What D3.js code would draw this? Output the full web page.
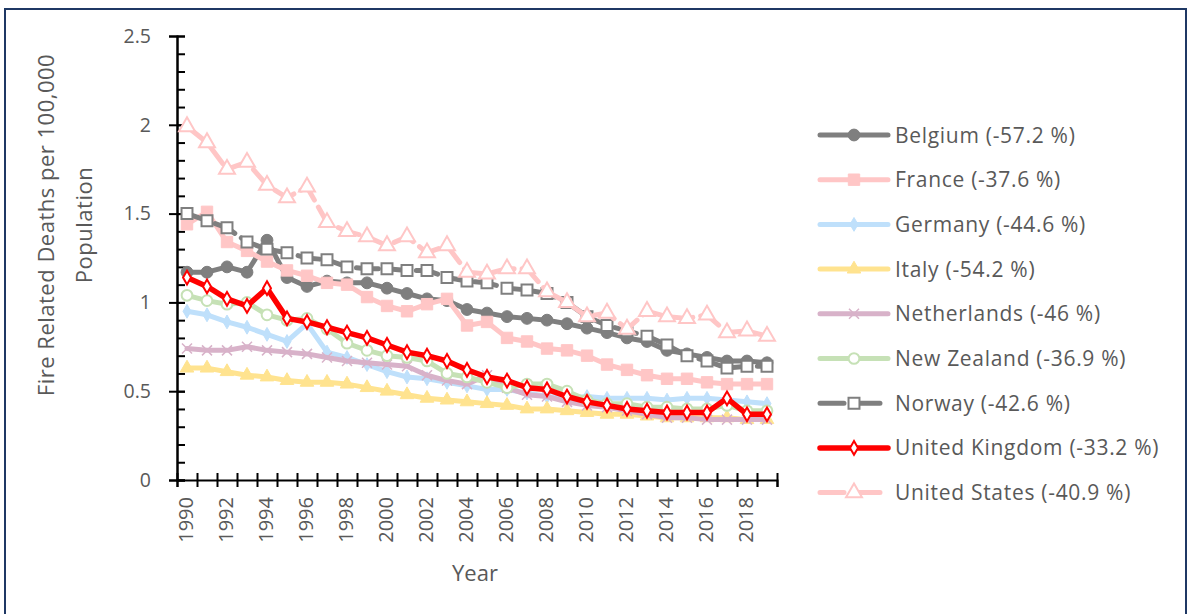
<!DOCTYPE html>
<html>
<head>
<meta charset="utf-8">
<script src="https://cdn.jsdelivr.net/npm/d3@7"></script>
<style>
  body { margin: 0; background: #fff; }
  svg text { font-family: "Open Sans", Lato, sans-serif; fill: #595959; }
</style>
</head>
<body>
<div id="chart"></div>
<script>
var years = d3.range(1990, 2020);
var yearLabels = years.filter(function(d){ return d % 2 === 0; });
var yTicks = [0, 0.5, 1, 1.5, 2, 2.5];

var countries = ["Belgium", "France", "Germany", "Italy", "Netherlands", "New Zealand", "Norway", "United Kingdom", "United States"];
var changes = ["-57.2 %", "-37.6 %", "-44.6 %", "-54.2 %", "-46 %", "-36.9 %", "-42.6 %", "-33.2 %", "-40.9 %"];

var belgium = [1.17,1.17,1.20,1.17,1.35,1.14,1.09,1.12,1.11,1.11,1.08,1.05,1.02,1.01,0.96,0.94,0.92,0.91,0.90,0.88,0.855,0.83,0.80,0.78,0.73,0.71,0.69,0.67,0.67,0.66];
var france = [1.44,1.51,1.34,1.29,1.23,1.18,1.15,1.11,1.10,1.03,0.98,0.95,0.99,1.02,0.87,0.89,0.80,0.78,0.74,0.73,0.70,0.65,0.62,0.59,0.57,0.57,0.55,0.54,0.54,0.54];
var germany = [0.95,0.93,0.89,0.86,0.82,0.78,0.88,0.72,0.69,0.65,0.61,0.58,0.57,0.55,0.53,0.51,0.51,0.49,0.47,0.46,0.47,0.46,0.46,0.46,0.45,0.46,0.46,0.45,0.44,0.43];
var italy = [0.63,0.63,0.61,0.59,0.58,0.56,0.55,0.55,0.54,0.52,0.50,0.48,0.46,0.45,0.44,0.43,0.42,0.40,0.40,0.39,0.38,0.37,0.37,0.36,0.35,0.35,0.35,0.35,0.34,0.34];
var netherlands = [0.74,0.73,0.73,0.75,0.73,0.72,0.71,0.69,0.67,0.66,0.65,0.64,0.59,0.56,0.54,0.59,0.52,0.48,0.47,0.44,0.42,0.41,0.39,0.37,0.35,0.35,0.34,0.34,0.34,0.34];
var newZealand = [1.04,1.01,0.99,1.00,0.93,0.90,0.91,0.85,0.77,0.73,0.70,0.69,0.67,0.60,0.58,0.55,0.52,0.54,0.54,0.50,0.45,0.43,0.43,0.41,0.41,0.40,0.40,0.42,0.39,0.39];
var norway = [1.50,1.46,1.42,1.34,1.30,1.28,1.25,1.24,1.20,1.19,1.19,1.18,1.18,1.14,1.12,1.11,1.08,1.07,1.05,1.00,0.92,0.87,0.84,0.81,0.76,0.70,0.67,0.63,0.64,0.64];
var unitedKingdom = [1.14,1.09,1.02,0.98,1.08,0.91,0.89,0.86,0.83,0.80,0.76,0.72,0.70,0.67,0.62,0.58,0.56,0.52,0.51,0.47,0.44,0.42,0.40,0.39,0.38,0.38,0.38,0.46,0.37,0.37];
var unitedStates = [1.99,1.90,1.75,1.79,1.66,1.59,1.65,1.45,1.40,1.37,1.32,1.37,1.28,1.32,1.17,1.16,1.19,1.19,1.06,1.00,0.92,0.94,0.85,0.95,0.92,0.91,0.93,0.83,0.84,0.81];

var seriesValues = [belgium, france, germany, italy, netherlands, newZealand, norway, unitedKingdom, unitedStates];

// look of each series, same order as countries
var styles = [
  {color: "#7f7f7f", width: 5, dash: null, marker: "circle", size: 110, fill: "#7f7f7f"},
  {color: "#ffc6c6", width: 5, dash: null, marker: "square", size: 130, fill: "#ffc6c6"},
  {color: "#bfe0fb", width: 5, dash: null, marker: "diamond", size: 55, fill: "#bfe0fb"},
  {color: "#ffe38f", width: 5, dash: null, marker: "triangle", size: 80, fill: "#ffe38f"},
  {color: "#d8b2c9", width: 5, dash: null, marker: "x", size: 5, fill: "none"},
  {color: "#c6e1b6", width: 5, dash: null, marker: "circle", size: 90, fill: "#fff", hollow: true},
  {color: "#7f7f7f", width: 5, dash: "22,8", marker: "square", size: 120, fill: "#fff", hollow: true},
  {color: "#ff0000", width: 5.5, dash: null, marker: "diamond", size: 55, fill: "#fff", hollow: true},
  {color: "#ffc6c6", width: 5, dash: "22,8", marker: "triangle", size: 110, fill: "#fff", hollow: true}
];

var width = 1192, height = 614;
var margin = {top: 36, right: 415, bottom: 134, left: 177};
var chartWidth = width - margin.left - margin.right,
    chartHeight = height - margin.top - margin.bottom;

var svg = d3.select("#chart").append("svg")
  .attr("width", width)
  .attr("height", height);

// outer frame
svg.append("rect")
  .attr("x", 5).attr("y", 9)
  .attr("width", 1181).attr("height", 620)
  .attr("fill", "none")
  .attr("stroke", "#1f3864")
  .attr("stroke-width", 2);

var chart = svg.append("g")
  .attr("transform", "translate(" + margin.left + "," + margin.top + ")");

var x = d3.scaleBand()
  .domain(years)
  .range([0, chartWidth]);

var xEdge = d3.scaleLinear()
  .domain([1990, 2020])
  .range([0, chartWidth]);

var y = d3.scaleLinear()
  .domain([0, 2.5])
  .range([chartHeight, 0]);

function cx(i){ return x(years[i]) + x.bandwidth() / 2; }

// y axis: minor ticks inside, major ticks crossing
var yMinor = d3.axisRight(y)
  .tickValues(d3.range(0, 25).map(function(d){ return d / 10; }))
  .tickSize(8)
  .tickFormat("");
chart.append("g").attr("class", "yMinor").call(yMinor);

var yAxis = d3.axisLeft(y)
  .tickValues(yTicks)
  .tickSize(8)
  .tickPadding(18)
  .tickFormat(function(d){ return d; });
var gy = chart.append("g").attr("class", "yAxis").call(yAxis);
gy.selectAll(".tick line").clone().attr("x2", 8);

// x axis: ticks between categories
var xTicks = d3.axisBottom(xEdge)
  .tickValues(d3.range(1990, 2021))
  .tickSize(7)
  .tickFormat("");
var gx = chart.append("g").attr("class", "xTicks")
  .attr("transform", "translate(0," + chartHeight + ")")
  .call(xTicks);
gx.selectAll(".tick line").clone().attr("y2", -7);

var xLabels = d3.axisBottom(x)
  .tickValues(yearLabels)
  .tickSize(0)
  .tickSizeOuter(0);
var gxl = chart.append("g").attr("class", "xLabels")
  .attr("transform", "translate(0," + chartHeight + ")")
  .call(xLabels);
gxl.select(".domain").remove();
gxl.selectAll("text")
  .attr("transform", "rotate(-90)")
  .attr("text-anchor", "end")
  .attr("x", -17)
  .attr("y", -1)
  .attr("dy", "0.35em")
  .attr("dx", 0)
  .style("font-size", "20px");

chart.selectAll(".domain").attr("stroke", "#000").attr("stroke-width", 2);
chart.selectAll(".tick line").attr("stroke", "#000").attr("stroke-width", 2);
gy.selectAll("text").style("font-size", "19.5px").attr("fill", "#595959");

// axis titles
chart.append("text")
  .attr("x", 298)
  .attr("y", 545)
  .attr("text-anchor", "middle")
  .style("font-size", "22px")
  .text("Year");

svg.append("text")
  .attr("transform", "translate(54,225) rotate(-90)")
  .attr("text-anchor", "middle")
  .style("font-size", "22px")
  .style("letter-spacing", "0.5px")
  .text("Fire Related Deaths per 100,000");

svg.append("text")
  .attr("transform", "translate(92,225) rotate(-90)")
  .attr("text-anchor", "middle")
  .style("font-size", "22px")
  .style("letter-spacing", "0.5px")
  .text("Population");

function markerPath(s){
  if (s.marker === "x") {
    var r = s.size;
    return "M" + (-r) + "," + (-r) + "L" + r + "," + r + "M" + (-r) + "," + r + "L" + r + "," + (-r);
  }
  var types = {circle: d3.symbolCircle, square: d3.symbolSquare, diamond: d3.symbolDiamond, triangle: d3.symbolTriangle};
  return d3.symbol().type(types[s.marker]).size(s.size)();
}

var line = d3.line()
  .x(function(d, i){ return cx(i); })
  .y(function(d){ return y(d); });

var data = countries.map(function(c, i){
  return {key: c, values: seriesValues[i], style: styles[i], change: changes[i]};
});

var flows = chart.selectAll("g.flow")
  .data(data)
  .enter().append("g")
  .attr("class", "flow");

flows.append("path")
  .attr("fill", "none")
  .attr("stroke", function(d){ return d.style.color; })
  .attr("stroke-width", function(d){ return d.style.width; })
  .attr("stroke-linejoin", "round")
  .attr("stroke-linecap", "round")
  .attr("stroke-dasharray", function(d){ return d.style.dash; })
  .attr("d", function(d){ return line(d.values); });

flows.each(function(d){
  var s = d.style;
  d3.select(this).selectAll("path.marker")
    .data(d.values)
    .enter().append("path")
    .attr("class", "marker")
    .attr("transform", function(v, i){ return "translate(" + cx(i) + "," + y(v) + ")"; })
    .attr("d", markerPath(s))
    .attr("fill", s.fill)
    .attr("stroke", s.color)
    .attr("stroke-width", s.marker === "x" ? 1.5 : (s.hollow ? 2 : 1));
});

// legend
var legend = svg.append("g").attr("class", "legend");
var rows = legend.selectAll("g.row")
  .data(data)
  .enter().append("g")
  .attr("class", "row")
  .attr("transform", function(d, i){ return "translate(818," + (135 + i * 44.7) + ")"; });

rows.append("line")
  .attr("x1", 2).attr("x2", 70)
  .attr("stroke", function(d){ return d.style.color; })
  .attr("stroke-width", function(d){ return d.style.width; })
  .attr("stroke-linecap", "round")
  .attr("stroke-dasharray", function(d){ return d.style.dash ? "24,12" : null; });

rows.append("path")
  .attr("transform", "translate(36,0)")
  .attr("d", function(d){ return markerPath(d.style); })
  .attr("fill", function(d){ return d.style.fill; })
  .attr("stroke", function(d){ return d.style.color; })
  .attr("stroke-width", function(d){ return d.style.marker === "x" ? 1.5 : (d.style.hollow ? 2 : 1); });

rows.append("text")
  .attr("x", 77)
  .attr("y", 7.5)
  .style("font-size", "21px")
  .style("letter-spacing", "0.7px")
  .text(function(d){ return d.key + " (" + d.change + ")"; });
</script>
</body>
</html>
